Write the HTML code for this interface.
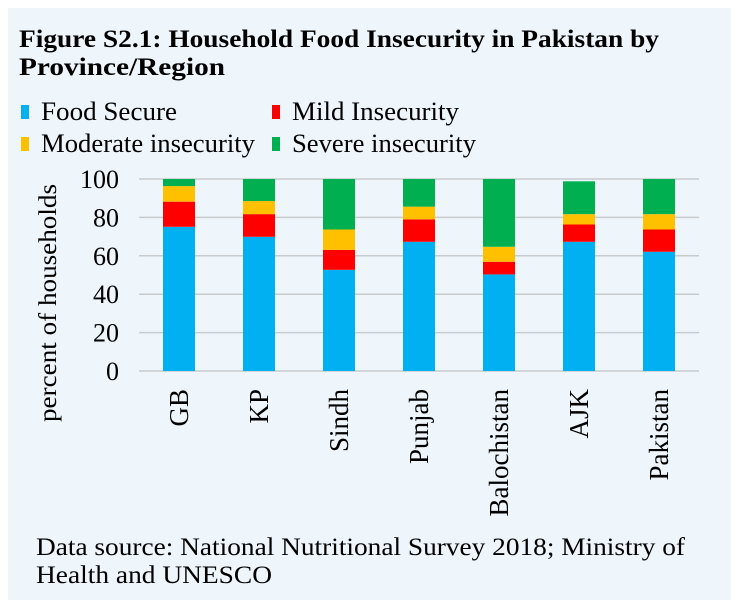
<!DOCTYPE html>
<html><head><meta charset="utf-8"><style>
html,body{margin:0;padding:0;background:#fff;}
svg{display:block;font-family:"Liberation Serif",serif;}
</style></head><body>
<svg id="chart" width="743" height="605" viewBox="0 0 743 605">
<rect x="8" y="8" width="723" height="592" fill="#eef5fb"/>
<text x="19" y="47" font-size="25" font-weight="bold" textLength="640" lengthAdjust="spacingAndGlyphs">Figure S2.1: Household Food Insecurity in Pakistan by</text>
<text x="19" y="75" font-size="25" font-weight="bold" textLength="206" lengthAdjust="spacingAndGlyphs">Province/Region</text>
<g id="legend"></g>
<g id="grid"></g>
<g id="yticks"></g>
<text transform="translate(56,303) rotate(-90)" text-anchor="middle" font-size="25" textLength="238" lengthAdjust="spacingAndGlyphs">percent of households</text>
<g id="bars"></g>
<g id="xlabels"></g>
<text x="36" y="555" font-size="25" textLength="649" lengthAdjust="spacingAndGlyphs">Data source: National Nutritional Survey 2018; Ministry of</text>
<text x="36" y="583" font-size="25" textLength="236" lengthAdjust="spacingAndGlyphs">Health and UNESCO</text>
</svg>
<script>
const categories = ["GB","KP","Sindh","Punjab","Balochistan","AJK","Pakistan"];
const foodSecure = [75.1, 69.9, 52.7, 67.3, 50.3, 67.3, 62.1];
const mildInsecurity = [13.1, 11.8, 10.4, 11.7, 6.6, 9.0, 11.6];
const moderateInsecurity = [8.1, 6.8, 10.6, 6.6, 7.8, 5.4, 8.0];
const severeInsecurity = [3.7, 11.5, 26.3, 14.4, 35.3, 17.1, 18.3];
const yTicks = [0, 20, 40, 60, 80, 100];
const seriesNames = ["Food Secure","Mild Insecurity","Moderate insecurity","Severe insecurity"];
const seriesColors = ["#00b0f0","#ff0000","#ffc000","#00b050"];

const NS = "http://www.w3.org/2000/svg";
const plotL = 139, plotR = 699, y0 = 371, y100 = 179;
const band = (plotR - plotL) / categories.length;
function xCenter(i){ return plotL + band * (i + 0.5); }
function yScale(v){ return y0 - (v / 100) * (y0 - y100); }
function mk(tag, attrs, parent){
  const e = document.createElementNS(NS, tag);
  for (const k in attrs) e.setAttribute(k, attrs[k]);
  parent.appendChild(e);
  return e;
}

const grid = document.getElementById("grid");
const yt = document.getElementById("yticks");
yTicks.forEach(t => {
  const l = mk("line", {x1: plotL, x2: plotR, y1: yScale(t), y2: yScale(t), stroke: "#c8cbce", "stroke-width": 1.5}, grid);
  
  
  const tx = mk("text", {x: 119, y: yScale(t) + 9, "text-anchor": "end", "font-size": 26}, yt);
  tx.textContent = t;
  
  
});

const series = [foodSecure, mildInsecurity, moderateInsecurity, severeInsecurity];
const bars = document.getElementById("bars");
const bw = 32;
categories.forEach((c, i) => {
  let cum = 0;
  series.forEach((s, k) => {
    const v = s[i];
    const r = mk("rect", {x: xCenter(i) - bw/2, y: yScale(cum + v), width: bw, height: yScale(cum) - yScale(cum + v), fill: seriesColors[k]}, bars);
    
    
    cum += v;
  });
  const lb = mk("text", {transform: "translate(" + (xCenter(i) + 9) + ",389) rotate(-90)", "text-anchor": "end", "font-size": 27}, document.getElementById("xlabels"));
  lb.textContent = c;
  
  
});

const legend = document.getElementById("legend");
const legPos = [[21,120],[272,120],[21,152],[272,152]];
const legW = [136, 167, 214, 184];
seriesNames.forEach((n, k) => {
  const g = mk("g", {}, legend);
  
  
  mk("rect", {x: legPos[k][0], y: legPos[k][1] - 15, width: 8, height: 14, fill: seriesColors[k]}, g);
  const t = mk("text", {x: legPos[k][0] + 20, y: legPos[k][1], "font-size": 26, textLength: legW[k], lengthAdjust: "spacingAndGlyphs"}, g);
  t.textContent = n;
});
</script>
</body></html>
